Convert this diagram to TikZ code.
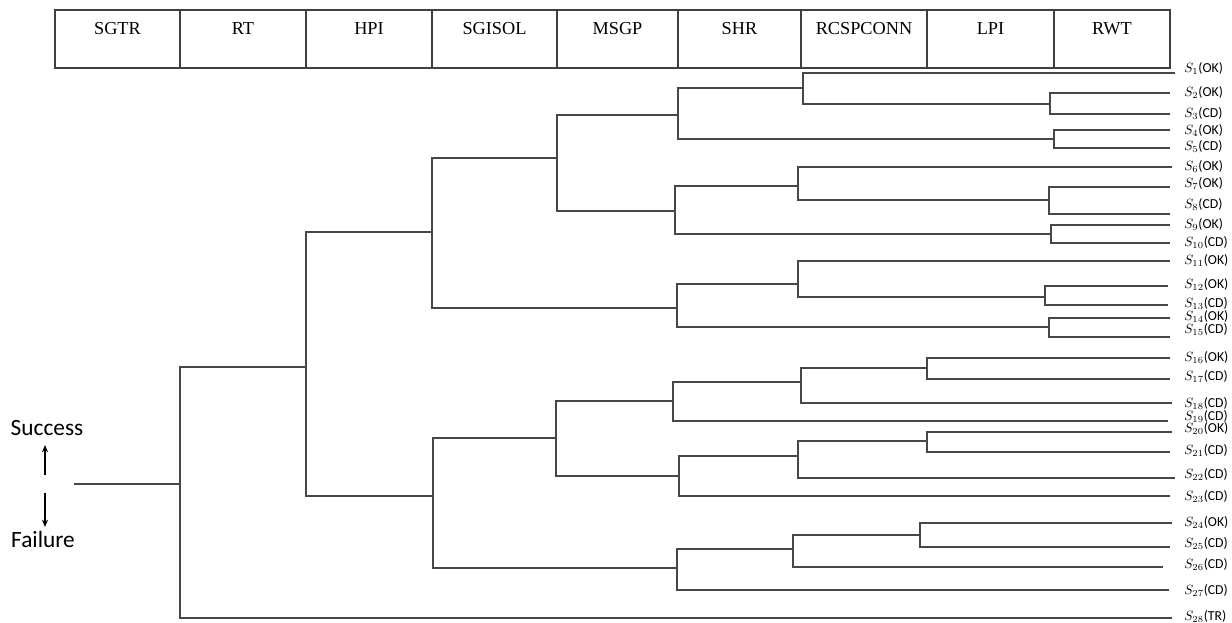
\documentclass[tikz,border=0pt]{standalone}
\usepackage{fontspec}
\setmainfont{Carlito}
\newfontfamily\hdrfont{Liberation Serif}
\usetikzlibrary{arrows.meta}
\begin{document}
\begin{tikzpicture}[x=0.75pt,y=-0.75pt,
  tree/.style={draw=black!72,line width=1.05pt,line join=miter},
  hdr/.style={draw=black!75,line width=0.8pt},
  hdrtext/.style={font=\hdrfont\fontsize{13.7}{15}\selectfont,anchor=base,inner sep=0pt},
  leaf/.style={font=\fontsize{10.3}{12}\selectfont,anchor=base west,inner sep=0pt},
  side/.style={font=\fontsize{17.5}{20}\selectfont,anchor=base,inner sep=0pt},
  arr/.style={-{Stealth[length=5.5pt,width=4.5pt]},line width=0.9pt,black}]
\useasboundingbox (0,0) rectangle (1232,623);

% header
\draw[hdr] (55,10) rectangle (1170,68);
\draw[draw=black!75,line width=1.4pt] (55,68) -- (1170,68);
\foreach \x in {180,306,432,557,678,801,927,1054}
  \draw[hdr] (\x,10) -- (\x,68);
\foreach \n/\x/\t in {h1/117.5/SGTR,h2/243/RT,h3/369/HPI,h4/494.5/SGISOL,h5/617.5/MSGP,
  h6/739.5/SHR,h7/864/RCSPCONN,h8/990.5/LPI,h9/1112/RWT}
  \node[hdrtext] (\n) at (\x,35) {\t};

% leaf ends
\foreach \i/\y/\x in {1/73/1175,2/93/1170,3/114/1170,4/130/1170,5/148/1170,6/167/1172,
  7/187/1170,8/214/1170,9/225/1170,10/243/1170,11/261/1170,12/286/1168,13/305/1168,
  14/318/1170,15/337/1170,16/358/1170,17/379/1170,18/403/1172,19/421/1168,20/432/1172,
  21/452/1170,22/478/1175,23/496/1170,24/523/1172,25/547/1170,26/567/1163,27/590/1169,28/618/1172}
  \coordinate (e\i) at (\x,\y);

% leaf labels
\foreach \i/\y/\t in {1/68/OK,2/92/OK,3/113/CD,4/130/OK,5/146/CD,6/166/OK,7/183/OK,
  8/204/CD,9/224/OK,10/242/CD,11/260/OK,12/284/OK,13/303/CD,14/316/OK,15/329/CD,
  16/357/OK,17/376/CD,18/403/CD,19/416/CD,20/428/OK,21/450/CD,22/474/CD,23/496/CD,
  24/522/OK,25/543/CD,26/564/CD,27/590/CD,28/616/TR}
  \node[leaf] (s\i) at (1184,{\y+4.5}) {$S_{\i}$(\t)};

% tree
\coordinate (root) at (74,484);
\draw[tree] (root) -- (180,484);
\draw[tree] (306,367) -- (180,367) -- (180,618) -- (e28);
\draw[tree] (432,232) -- (306,232) -- (306,496) -- (433,496);
\draw[tree] (557,158) -- (432,158) -- (432,308) -- (677,308);
\draw[tree] (678,115) -- (557,115) -- (557,211) -- (675,211);
\draw[tree] (803,88) -- (678,88) -- (678,139) -- (1054,139);
\draw[tree] (e1) -- (803,73) -- (803,104) -- (1050,104);
\draw[tree] (e2) -- (1050,93) -- (1050,114) -- (e3);
\draw[tree] (e4) -- (1054,130) -- (1054,148) -- (e5);
\draw[tree] (798,186) -- (675,186) -- (675,234) -- (1051,234);
\draw[tree] (e6) -- (798,167) -- (798,200) -- (1049,200);
\draw[tree] (e7) -- (1049,187) -- (1049,214) -- (e8);
\draw[tree] (e9) -- (1051,225) -- (1051,243) -- (e10);
\draw[tree] (798,284) -- (677,284) -- (677,327) -- (1049,327);
\draw[tree] (e11) -- (798,261) -- (798,297) -- (1045,297);
\draw[tree] (e12) -- (1045,286) -- (1045,305) -- (e13);
\draw[tree] (e14) -- (1049,318) -- (1049,337) -- (e15);
\draw[tree] (556,438) -- (433,438) -- (433,568) -- (677,568);
\draw[tree] (673,401) -- (556,401) -- (556,476) -- (679,476);
\draw[tree] (801,382) -- (673,382) -- (673,421) -- (e19);
\draw[tree] (927,368) -- (801,368) -- (801,403) -- (e18);
\draw[tree] (e16) -- (927,358) -- (927,379) -- (e17);
\draw[tree] (798,456) -- (679,456) -- (679,496) -- (e23)
            (927,441) -- (798,441) -- (798,478) -- (e22);
\draw[tree] (e20) -- (927,432) -- (927,452) -- (e21);
\draw[tree] (793,549) -- (677,549) -- (677,590) -- (e27);
\draw[tree] (920,535) -- (793,535) -- (793,567) -- (e26);
\draw[tree] (e24) -- (920,523) -- (920,547) -- (e25);

% success / failure
\node[side] (succ) at (47,435.5) {Success};
\node[side] (fail) at (43,547.5) {Failure};
\coordinate (u0) at (45,475);
\coordinate (u1) at (45,445);
\coordinate (d0) at (45,493);
\coordinate (d1) at (45,527);
\draw[arr] (u0) -- (u1);
\draw[arr] (d0) -- (d1);
\end{tikzpicture}
\end{document}
